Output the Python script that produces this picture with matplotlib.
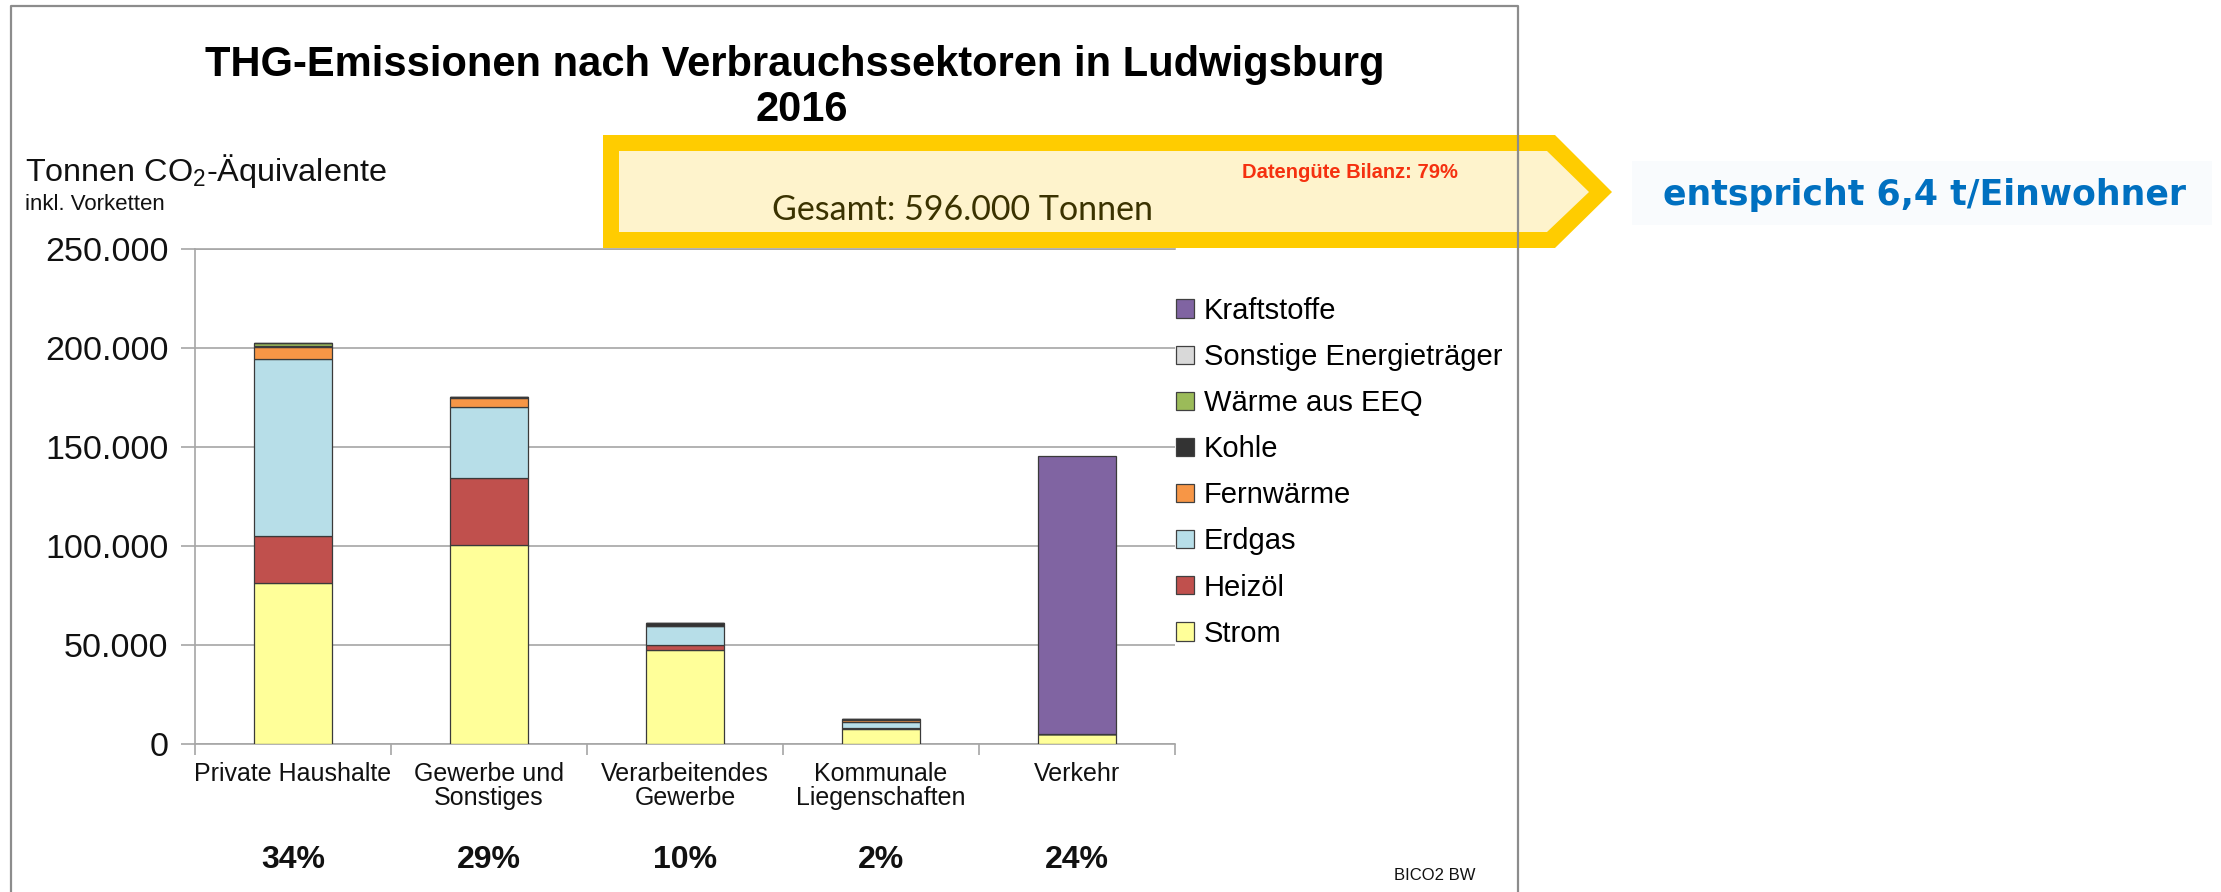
import matplotlib
matplotlib.use('Agg')
import matplotlib.pyplot as plt
from matplotlib.patches import Polygon, Rectangle, Patch
from matplotlib.lines import Line2D
from matplotlib.ticker import FuncFormatter, FixedLocator
import matplotlib.transforms as mtransforms

plt.rcParams['font.family'] = ['Liberation Sans', 'DejaVu Sans']
plt.rcParams['mathtext.fontset'] = 'custom'
plt.rcParams['mathtext.rm'] = 'Liberation Sans'
plt.rcParams['mathtext.it'] = 'Liberation Sans:italic'
plt.rcParams['mathtext.bf'] = 'Liberation Sans:bold'

# ---------------- data ----------------
categories = ['Private Haushalte', 'Gewerbe und\nSonstiges', 'Verarbeitendes\nGewerbe',
              'Kommunale\nLiegenschaften', 'Verkehr']
shares = ['34%', '29%', '10%', '2%', '24%']
strom = [81500, 100400, 47300, 7800, 5000]
heizoel = [23700, 33900, 2800, 400, 0]
erdgas = [89000, 36000, 9300, 3000, 0]
fernwaerme = [6500, 4600, 200, 1000, 0]
kohle = [300, 600, 1300, 300, 0]
waerme_eeq = [1500, 0, 0, 100, 0]
sonstige = [0, 0, 0, 0, 0]
kraftstoffe = [0, 0, 0, 0, 140600]
series_names = ['Strom', 'Heizöl', 'Erdgas', 'Fernwärme', 'Kohle', 'Wärme aus EEQ',
                'Sonstige Energieträger', 'Kraftstoffe']
series_colors = ['#FFFF99', '#C0504D', '#B7DEE8', '#F79646', '#333333', '#9BBB59',
                 '#D9D9D9', '#8064A2']
y_ticks = [0, 50000, 100000, 150000, 200000, 250000]
title_line1 = 'THG-Emissionen nach Verbrauchssektoren in Ludwigsburg'
title_line2 = '2016'
total_text = 'Gesamt: 596.000 Tonnen'
quality_text = 'Datengüte Bilanz: 79%'
per_capita_text = 'entspricht 6,4 t/Einwohner'
source_text = 'BICO2 BW'

series = [strom, heizoel, erdgas, fernwaerme, kohle, waerme_eeq, sonstige, kraftstoffe]

# ---------------- figure ----------------
W, H = 2221, 892
fig = plt.figure(figsize=(W / 100, H / 100), dpi=100)
fig.patch.set_facecolor('white')


def fx(px):
    return px / W


def fy(py):
    return 1 - py / H


ax = fig.add_axes([fx(195), fy(744), (1175 - 195) / W, (744 - 249) / H])
x = list(range(len(categories)))
bottom = [0] * len(categories)
for vals, name, col in zip(series, series_names, series_colors):
    ax.bar(x, vals, width=0.4, bottom=bottom, color=col, edgecolor='#3A3A3A',
           linewidth=0.9, label=name, zorder=3)
    bottom = [b + v for b, v in zip(bottom, vals)]

ax.set_xlim(-0.5, len(categories) - 0.5)
ax.set_ylim(0, 250000)
ax.yaxis.set_major_locator(FixedLocator(y_ticks))
ax.yaxis.set_major_formatter(FuncFormatter(lambda v, p: f'{v:,.0f}'.replace(',', '.')))
ax.grid(axis='y', color='#A6A6A6', linewidth=1.2, zorder=0)
ax.set_axisbelow(True)
ax.spines['right'].set_visible(False)
for s in ['left', 'bottom', 'top']:
    ax.spines[s].set_color('#A6A6A6')
    ax.spines[s].set_linewidth(1.2)
ax.tick_params(axis='y', length=10, width=1.2, color='#A6A6A6', labelsize=24.5, pad=9,
               labelcolor='#111111')
ax.set_xticks(x)
ax.set_xticklabels(categories, fontsize=18, linespacing=1.0)
ax.set_xticks([i - 0.5 for i in range(len(categories) + 1)], minor=True)
ax.tick_params(axis='x', which='major', length=0, pad=13, labelcolor='#111111')
ax.tick_params(axis='x', which='minor', length=8, width=1.2, color='#A6A6A6')

# percentages under categories
trans = mtransforms.blended_transform_factory(ax.transData, fig.transFigure)
for xi, s in zip(x, shares):
    ax.text(xi, fy(860), s, transform=trans, ha='center', va='center',
            fontsize=23, fontweight='bold', color='#111111')

# ---------------- frame ----------------
fig.add_artist(Line2D([fx(11), fx(11), fx(1518), fx(1518)], [fy(900), fy(6), fy(6), fy(900)],
                      transform=fig.transFigure, color='#8C8C8C', lw=1.6, zorder=20))

# ---------------- titles ----------------
fig.text(fx(795), fy(65), title_line1, ha='center', va='center', fontsize=30,
         fontweight='bold', color='black')
fig.text(fx(802), fy(110), title_line2, ha='center', va='center', fontsize=30,
         fontweight='bold', color='black')
fig.text(fx(25), fy(171), 'Tonnen CO$_\\mathregular{2}$-Äquivalente', ha='left', va='center',
         fontsize=23.3, color='#111111')
fig.text(fx(25), fy(205), 'inkl. Vorketten', ha='left', va='center', fontsize=16,
         color='#111111')

# ---------------- yellow arrow box ----------------
outer = [(603, 135), (1555, 135), (1612, 192), (1555, 248), (603, 248)]
inner = [(619, 151), (1547, 151), (1589, 192), (1547, 232), (619, 232)]
fig.add_artist(Polygon([(fx(a), fy(b)) for a, b in outer], closed=True,
                       transform=fig.transFigure, facecolor='#FFCC00', edgecolor='none', zorder=10))
fig.add_artist(Polygon([(fx(a), fy(b)) for a, b in inner], closed=True,
                       transform=fig.transFigure, facecolor='#FEF3CC', edgecolor='none', zorder=11))
fig.text(fx(1350), fy(172), quality_text, ha='center', va='center', fontsize=14.5,
         fontweight='bold', color='#F5300F', zorder=12)
fig.text(fx(963), fy(210), total_text, ha='center', va='center', fontsize=24.5,
         family=['Lato', 'DejaVu Sans'], color='#3A3200', zorder=12)

# per-capita box
fig.add_artist(Rectangle((fx(1632), fy(225)), (2212 - 1632) / W, (225 - 161) / H,
                         transform=fig.transFigure, facecolor='#F9FBFD', edgecolor='none', zorder=1))
fig.text(fx(1663), fy(195), per_capita_text, ha='left', va='center', fontsize=25,
         fontweight='bold', family=['DejaVu Sans'], color='#0070C0', zorder=2)

# source
fig.text(fx(1435), fy(876), source_text, ha='center', va='center', fontsize=12,
         color='#111111')

# ---------------- legend ----------------
handles = [Patch(facecolor=c, edgecolor='#404040', linewidth=0.9)
           for c in series_colors][::-1]
labels = series_names[::-1]
fig.legend(handles, labels, loc='upper left', bbox_to_anchor=(fx(1176), fy(297)),
           frameon=False, fontsize=21, handlelength=0.6, handleheight=0.6,
           handletextpad=0.35, labelspacing=0.62, borderpad=0, borderaxespad=0)

fig.savefig('out.png', dpi=100)
